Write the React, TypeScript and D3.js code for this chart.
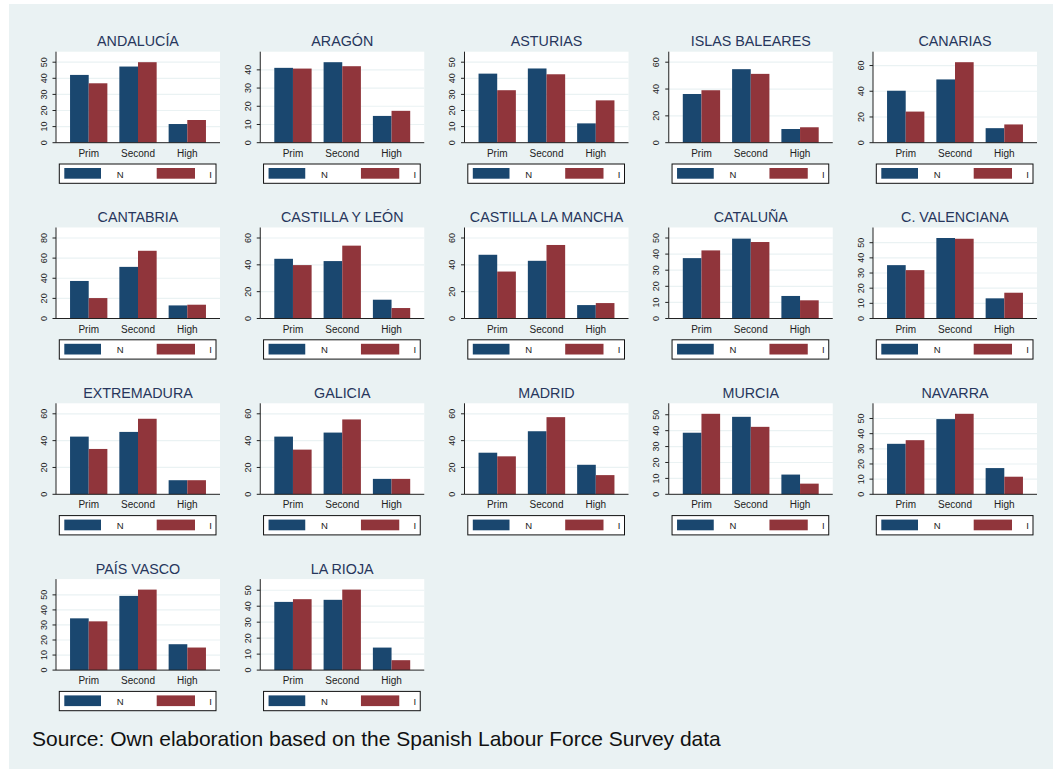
import React from "react";
import * as d3 from "d3";

// Education level categories and the two population groups
const levels = ["Prim", "Second", "High"];
const groups = ["N", "I"];

const regions = [
  "ANDALUCÍA", "ARAGÓN", "ASTURIAS", "ISLAS BALEARES", "CANARIAS",
  "CANTABRIA", "CASTILLA Y LEÓN", "CASTILLA LA MANCHA", "CATALUÑA", "C. VALENCIANA",
  "EXTREMADURA", "GALICIA", "MADRID", "MURCIA", "NAVARRA",
  "PAÍS VASCO", "LA RIOJA",
];

// Share (%) by education level: natives (N)
const nativeShares = [
  [42.1, 47.3, 11.6],
  [41.1, 44.2, 14.7],
  [42.9, 46.1, 12.0],
  [36.3, 54.8, 10.2],
  [40.4, 49.2, 11.3],
  [37.3, 51.3, 13.0],
  [44.5, 42.8, 14.0],
  [47.5, 43.0, 10.0],
  [37.5, 49.6, 14.0],
  [35.2, 53.1, 13.3],
  [43.0, 46.5, 10.5],
  [43.0, 46.0, 11.5],
  [31.0, 47.0, 22.0],
  [38.7, 48.7, 12.4],
  [33.3, 49.6, 17.3],
  [34.4, 49.3, 17.2],
  [42.7, 44.0, 14.1],
];

// Share (%) by education level: immigrants (I)
const immigrantShares = [
  [36.9, 50.0, 14.1],
  [40.7, 42.0, 17.5],
  [32.6, 42.5, 26.3],
  [39.1, 51.3, 11.5],
  [24.2, 62.6, 14.2],
  [20.3, 67.3, 13.7],
  [39.8, 54.3, 7.8],
  [35.0, 54.8, 11.5],
  [42.3, 47.5, 11.3],
  [31.9, 52.6, 17.0],
  [33.8, 56.3, 10.5],
  [33.3, 55.8, 11.5],
  [28.3, 57.5, 14.3],
  [50.6, 42.4, 6.7],
  [35.7, 53.1, 11.6],
  [32.4, 53.5, 15.0],
  [44.4, 50.4, 6.2],
];

// Y-axis tick labels for each panel
const t10 = [0, 10, 20, 30, 40, 50];
const t20 = [0, 20, 40, 60];
const yTicks = [
  t10, [0, 10, 20, 30, 40], t10, t20, t20,
  [0, 20, 40, 60, 80], t20, t20, t10, t10,
  t20, t20, t20, t10, t10,
  t10, t10,
];

const sourceNote = "Source: Own elaboration based on the Spanish Labour Force Survey data";

const colors: Record<string, string> = { N: "#1a476f", I: "#90353b" };
const FONT = "'Liberation Sans', Arial, Helvetica, sans-serif";

const W = 1053;
const H = 769;
const COLS = 5;
const PLOT_W = 164;
const BAR_H = 80.5; // pixel height reached by the panel's maximum value
const PLOT_H = 91;

function Panel({ idx }: { idx: number }) {
  const col = idx % COLS;
  const row = Math.floor(idx / COLS);
  const left = 56 + col * 204.25;
  const base = 142.7 + row * 175.8;

  const nVals = nativeShares[idx];
  const iVals = immigrantShares[idx];
  const ticks = yTicks[idx];
  const maxV = Math.max(d3.max(nVals)!, d3.max(iVals)!, d3.max(ticks)!);

  const y = d3.scaleLinear().domain([0, maxV]).range([0, -BAR_H]);
  const x0 = d3
    .scaleBand<string>()
    .domain(levels)
    .range([0, PLOT_W])
    .paddingInner(0.243)
    .paddingOuter(0.285);
  const x1 = d3.scaleBand<string>().domain(groups).range([0, x0.bandwidth()]);

  const series: Record<string, number[]> = { N: nVals, I: iVals };

  return (
    <g transform={`translate(${left},${base})`}>
      <rect x={0} y={-PLOT_H} width={PLOT_W} height={PLOT_H} fill="#ffffff" />
      {ticks.filter((t) => t > 0).map((t) => (
        <line key={"g" + t} x1={0} x2={PLOT_W} y1={y(t)} y2={y(t)} stroke="#eaf2f3" strokeWidth={1.2} />
      ))}
      {levels.map((lv, li) =>
        groups.map((g) => (
          <rect
            key={lv + g}
            x={x0(lv)! + x1(g)!}
            y={y(series[g][li])}
            width={x1.bandwidth()}
            height={-y(series[g][li])}
            fill={colors[g]}
          />
        ))
      )}
      {/* axes */}
      <line x1={0} x2={0} y1={-PLOT_H} y2={0} stroke="#222" strokeWidth={1} />
      <line x1={0} x2={PLOT_W} y1={0} y2={0} stroke="#222" strokeWidth={1} />
      {ticks.map((t) => (
        <g key={"t" + t}>
          <line x1={-3.5} x2={0} y1={y(t)} y2={y(t)} stroke="#222" strokeWidth={1} />
          <text
            transform={`translate(${-9.5},${y(t)}) rotate(-90)`}
            textAnchor="middle"
            fontSize={9}
            fontFamily={FONT}
            fill="#222"
          >
            {t}
          </text>
        </g>
      ))}
      {levels.map((lv) => (
        <text
          key={"x" + lv}
          x={x0(lv)! + x0.bandwidth() / 2}
          y={14}
          textAnchor="middle"
          fontSize={10}
          fontFamily={FONT}
          fill="#222"
        >
          {lv}
        </text>
      ))}
      <text
        x={PLOT_W / 2}
        y={-96.5}
        textAnchor="middle"
        fontSize={14.3}
        fontFamily={FONT}
        fill="#27365c"
      >
        {regions[idx]}
      </text>
      {/* legend */}
      <g transform="translate(3.3,21.3)">
        <rect x={0} y={0} width={156.7} height={19.3} fill="#ffffff" stroke="#111" strokeWidth={1} />
        <rect x={5} y={4} width={36.7} height={10.7} fill={colors.N} />
        <text x={57.5} y={13.5} fontSize={9.5} fontFamily={FONT} fill="#222">{groups[0]}</text>
        <rect x={97.4} y={4} width={38.3} height={10.7} fill={colors.I} />
        <text x={150} y={13.5} fontSize={9.5} fontFamily={FONT} fill="#222">{groups[1]}</text>
      </g>
    </g>
  );
}

export default function App() {
  return (
    <svg
      width={W}
      height={H}
      style={{ position: "absolute", left: 0, top: 0, background: "#ffffff" }}
    >
      <rect x={9} y={4} width={W - 9} height={H - 4} fill="#eaf2f3" />
      {regions.map((_, i) => (
        <Panel key={i} idx={i} />
      ))}
      <text x={32} y={746} fontSize={21} fontFamily={FONT} fill="#111">
        {sourceNote}
      </text>
    </svg>
  );
}
